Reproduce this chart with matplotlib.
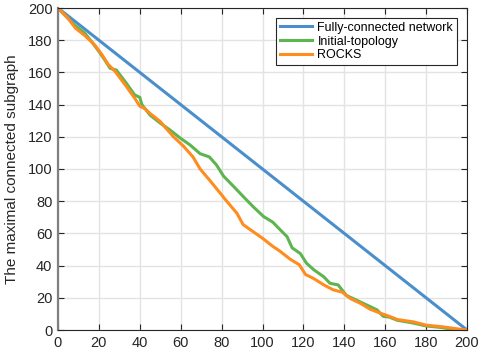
import matplotlib
matplotlib.use("Agg")
import matplotlib.pyplot as plt

plt.rcParams['font.family'] = ['Liberation Sans', 'DejaVu Sans']

# Fully-connected network: straight line from 200 down to 0
full_x = [0, 200]
full_y = [200, 0]

# Initial-topology
init_x = [0, 3, 8, 13, 16.5, 20, 23, 25.5, 28.5, 33, 37.5, 40, 41, 45, 50, 55,
          60, 64.5, 69.5, 74, 77.5, 81, 86, 90.5, 95.5, 100.5, 105, 110, 112,
          114.5, 118.5, 121.5, 125, 130, 133, 137, 141, 146, 151, 156, 159,
          162, 166, 173, 180, 188, 194, 200]
init_y = [200, 196, 189.5, 184.5, 179, 173, 167.5, 162.5, 161.5, 154, 146,
          144.5, 140, 133.5, 128.5, 124, 119, 115, 109.5, 107.5, 102.5, 95.5,
          89, 83, 76.5, 70.5, 67, 60.5, 58, 51, 47.5, 41.5, 37.5, 33, 29, 28,
          21.5, 18.5, 15.5, 12.5, 8.5, 8, 6, 4.5, 2.5, 1.5, 0, 0]

# ROCKS
rocks_x = [0, 5, 8.5, 13, 18, 21.5, 24.5, 28, 33, 37.5, 40, 42.5, 45, 50, 53,
           56.5, 61.5, 66, 69.5, 74.5, 79, 82.5, 87.5, 90.5, 95.5, 100, 105,
           108.5, 113.5, 118, 121, 125, 130, 134.5, 139, 143, 148, 152.5,
           157.5, 162, 166, 174, 180, 188, 196.5, 200]
rocks_y = [200, 193.5, 187.5, 183, 177, 171, 165, 160.5, 152, 144, 139, 137.5,
           134.5, 129.5, 125, 120, 114, 107.5, 100, 92.5, 85.5, 80, 72.5, 65.5,
           61, 57, 52, 49, 44, 40.5, 34.5, 32, 28, 25, 23.5, 19.5, 16.5, 13,
           10.5, 8.5, 6.5, 5, 3, 2, 0.5, 0]

ticks = [0, 20, 40, 60, 80, 100, 120, 140, 160, 180, 200]
text_col = '#262626'

fig = plt.figure(figsize=(4.81, 3.56), dpi=100)
ax = fig.add_axes([58 / 481, 26 / 356, (467 - 58) / 481, (330 - 8) / 356])

ax.plot(full_x, full_y, color='#4a8fcb', lw=2.2, label='Fully-connected network')
ax.plot(init_x, init_y, color='#5db550', lw=2.2, label='Initial-topology')
ax.plot(rocks_x, rocks_y, color='#ff8c1e', lw=2.2, label='ROCKS')

ax.set_xlim(0, 200)
ax.set_ylim(0, 200)
ax.set_xticks(ticks)
ax.set_yticks(ticks)
ax.grid(True, color='#e3e3e3', lw=1.0)
ax.set_axisbelow(True)
ax.tick_params(direction='in', top=True, right=True, length=4, width=0.8,
               labelsize=10.5, colors=text_col, pad=4)
for side in ['top', 'right', 'bottom']:
    ax.spines[side].set_color(text_col)
    ax.spines[side].set_linewidth(0.8)
ax.spines['left'].set_color('#808080')
ax.spines['left'].set_linewidth(1.6)

ax.set_ylabel('The maximal connected subgraph', fontsize=11, color=text_col,
              labelpad=6)

leg = ax.legend(loc='upper right', fontsize=9, fancybox=False, framealpha=1,
                edgecolor=text_col, borderaxespad=0.8, handlelength=2.6,
                labelspacing=0.15, borderpad=0.3, handletextpad=0.4)
leg.get_frame().set_linewidth(0.8)

fig.savefig('out.png', dpi=100)
